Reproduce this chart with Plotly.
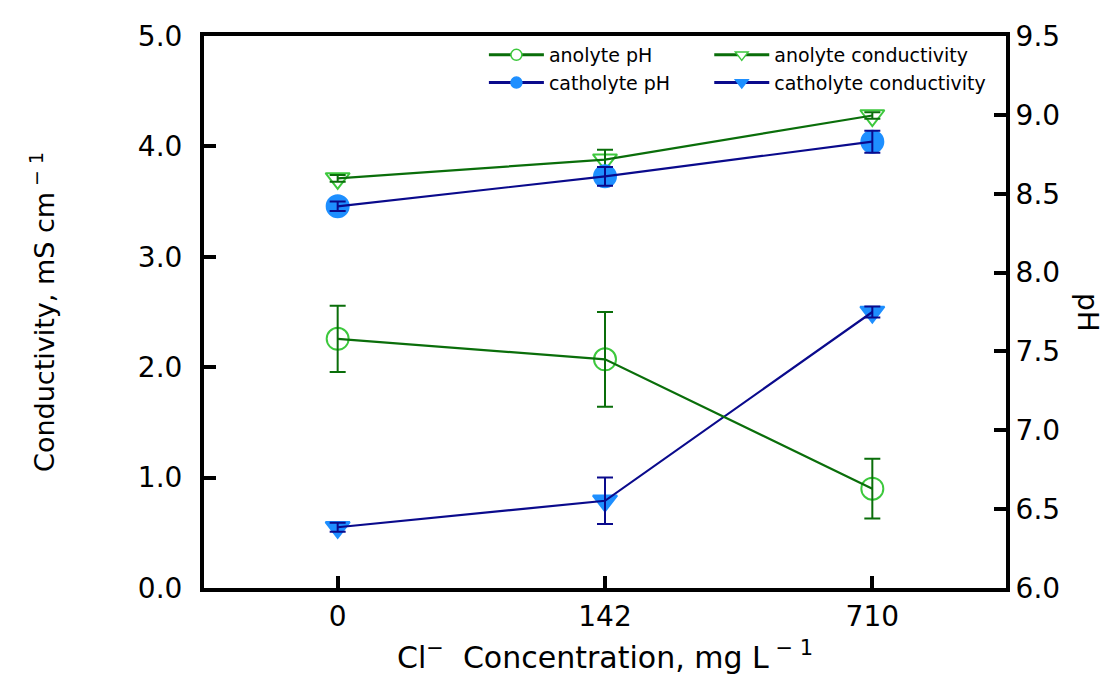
import plotly.graph_objects as go

categories = ["0", "142", "710"]

anolyte_ph = [7.58, 7.45, 6.63]
anolyte_ph_err = [0.21, 0.30, 0.19]
catholyte_ph = [8.42, 8.61, 8.83]
catholyte_ph_err = [0.03, 0.06, 0.07]

anolyte_cond = [3.71, 3.88, 4.28]
anolyte_cond_err = [0.03, 0.09, 0.03]
catholyte_cond = [0.55, 0.79, 2.50]
catholyte_cond_err = [0.04, 0.21, 0.05]

y_ticks = [0, 1, 2, 3, 4, 5]
y2_ticks = [6.0, 6.5, 7.0, 7.5, 8.0, 8.5, 9.0, 9.5]

GREEN_LINE = "#0a6e0a"
GREEN_MARK = "#3dc83d"
BLUE_LINE = "#0a0a8c"
BLUE_MARK = "#1e8fff"
FONT = "DejaVu Sans"

fig = go.Figure()

series = [
    ("anolyte pH", anolyte_ph, anolyte_ph_err, "y2", "circle-open", GREEN_LINE, GREEN_MARK, 22, "white", "legend"),
    ("catholyte pH", catholyte_ph, catholyte_ph_err, "y2", "circle", BLUE_LINE, BLUE_MARK, 22, BLUE_MARK, "legend"),
    ("anolyte conductivity", anolyte_cond, anolyte_cond_err, "y", "triangle-down-open", GREEN_LINE, GREEN_MARK, 21, "white", "legend2"),
    ("catholyte conductivity", catholyte_cond, catholyte_cond_err, "y", "triangle-down", BLUE_LINE, BLUE_MARK, 21, BLUE_MARK, "legend2"),
]

# markers first
for name, vals, err, ax, sym, lc, mc, size, fill, lg in series:
    fig.add_trace(go.Scatter(
        x=categories, y=vals, yaxis=ax, mode="markers", showlegend=False,
        marker=dict(symbol=sym, size=size, color=mc, line=dict(color=mc, width=2)),
        hoverinfo="skip",
    ))
# lines + error bars on top
for name, vals, err, ax, sym, lc, mc, size, fill, lg in series:
    fig.add_trace(go.Scatter(
        x=categories, y=vals, yaxis=ax, mode="lines", showlegend=False,
        line=dict(color=lc, width=2.2),
        error_y=dict(type="data", array=err, visible=True, color=lc, thickness=2, width=8),
    ))
# legend entries
for name, vals, err, ax, sym, lc, mc, size, fill, lg in series:
    lsym = "circle" if "circle" in sym else "triangle-down"
    fig.add_trace(go.Scatter(
        x=[None], y=[None], yaxis=ax, mode="lines+markers", name=name, showlegend=True,
        legend=lg,
        line=dict(color=lc, width=3),
        marker=dict(symbol=lsym, size=11, color=fill, line=dict(color=mc, width=1.5)),
    ))

axis_common = dict(
    showline=True, linecolor="black", linewidth=4,
    ticks="inside", ticklen=12, tickwidth=4, tickcolor="black",
    showgrid=False, zeroline=False,
    tickfont=dict(family=FONT, size=28, color="black"),
)

legend_common = dict(
    orientation="v", xanchor="left", y=1.0, yanchor="top",
    itemwidth=55, tracegroupgap=0,
    font=dict(family=FONT, size=19, color="black"),
    bgcolor="rgba(0,0,0,0)",
)

fig.update_layout(
    width=1108, height=686,
    margin=dict(l=196, r=110, t=19, b=106),
    paper_bgcolor="white", plot_bgcolor="white",
    font=dict(family=FONT, color="black"),
    xaxis=dict(
        type="category", range=[-0.5, 2.5], mirror=True, **axis_common,
        title=dict(text="Cl<sup>−</sup>  Concentration, mg L<sup> − 1</sup>",
                   font=dict(family=FONT, size=30), standoff=16),
    ),
    yaxis=dict(
        range=[0, 5], tickvals=y_ticks, tickformat=".1f", ticklabelstandoff=12,
        **axis_common,
        title=dict(text="Conductivity, mS cm<sup> − 1</sup>",
                   font=dict(family=FONT, size=27), standoff=76),
    ),
    yaxis2=dict(
        range=[6, 9.5], tickvals=y2_ticks, tickformat=".1f", overlaying="y", side="right",
        **axis_common,
    ),
    legend=dict(x=0.349, **legend_common),
    legend2=dict(x=0.630, **legend_common),
    annotations=[dict(
        text="pH", textangle=90, xref="paper", yref="paper", x=1.0, y=0.5,
        xanchor="center", yanchor="middle", xshift=82, showarrow=False,
        font=dict(family=FONT, size=28, color="black"),
    )],
)

fig.write_html("out.html")
